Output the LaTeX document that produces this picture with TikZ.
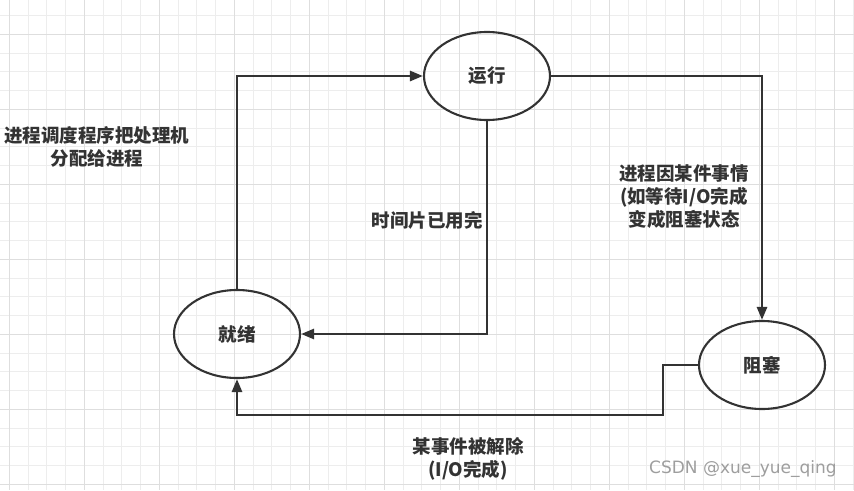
\documentclass[tikz,border=0pt]{standalone}
\usepackage{fontspec}
\setmainfont{Noto Sans CJK SC}
\newfontfamily\wmfont{DejaVu Sans}
\usepackage{xcolor}
\usepackage{tikz}
\usetikzlibrary{shapes,arrows.meta,positioning,calc}

\definecolor{gridminor}{HTML}{EDEDED}
\definecolor{gridmajor}{HTML}{DEDEDE}
\definecolor{ink}{HTML}{333333}

\tikzset{
  state/.style={draw=ink, ellipse, line width=2.1pt, minimum width=126pt, minimum height=88pt,
    inner sep=0pt, font=\fontsize{18.5}{23}\selectfont\bfseries, text=ink},
  lbl/.style={align=center, inner sep=0pt, font=\fontsize{18.5}{23}\selectfont\bfseries, text=ink},
  flow/.style={draw=ink, line width=2.6pt, -{Triangle[length=13pt,width=10pt]}},
}

\begin{document}
\begin{tikzpicture}[x=1pt, y=-1pt]
    \useasboundingbox (0,0) rectangle (854,490);
    \fill[white] (0,0) rectangle (854,490);
    % background grid
    \foreach \i in {0,...,45} {
      \draw[gridminor, line width=1pt] ({9.3+18.75*\i},0) -- ({9.3+18.75*\i},490);
    }
    \foreach \i in {-1,...,25} {
      \draw[gridminor, line width=1pt] (0,{34.3+18.75*\i}) -- (854,{34.3+18.75*\i});
    }
    \foreach \i in {0,...,11} {
      \draw[gridmajor, line width=1.1pt] ({9.3+75*\i},0) -- ({9.3+75*\i},490);
    }
    \foreach \i in {0,...,6} {
      \draw[gridmajor, line width=1.1pt] (0,{34.3+75*\i}) -- (854,{34.3+75*\i});
    }

    % states
    \node[state] (run) at (487,76) {运行};
    \node[state] (ready) at (237,334) {就绪};
    \node[state] (block) at (762,365) {阻塞};

    % connectors
    \draw[flow] (ready.north) |- (run.west);
    \draw[flow] (run.east) -| (block.north);
    \draw[flow] (run.south) |- (ready.east);
    \coordinate (bend) at (663,365);
    \coordinate (low) at (663,415);
    \draw[flow] (block.west) -- (bend) -- (low) -| (ready.south);

    % labels
    \node[lbl] (dispatch) at (97,146.5) {进程调度程序把处理机\\分配给进程};
    \node[lbl] (timeout) at (427,220) {时间片已用完};
    \node[lbl] (wait) at (684,197) {进程因某件事情\\ (如等待I/O完成\\变成阻塞状态};
    \node[lbl] (wake) at (468,458.5) {某事件被解除\\(I/O完成)};
    \node[inner sep=0pt, text=black!38, font=\wmfont\fontsize{17}{19}\selectfont] (mark) at (743,469) {CSDN @xue\_yue\_qing};
\end{tikzpicture}
\end{document}
